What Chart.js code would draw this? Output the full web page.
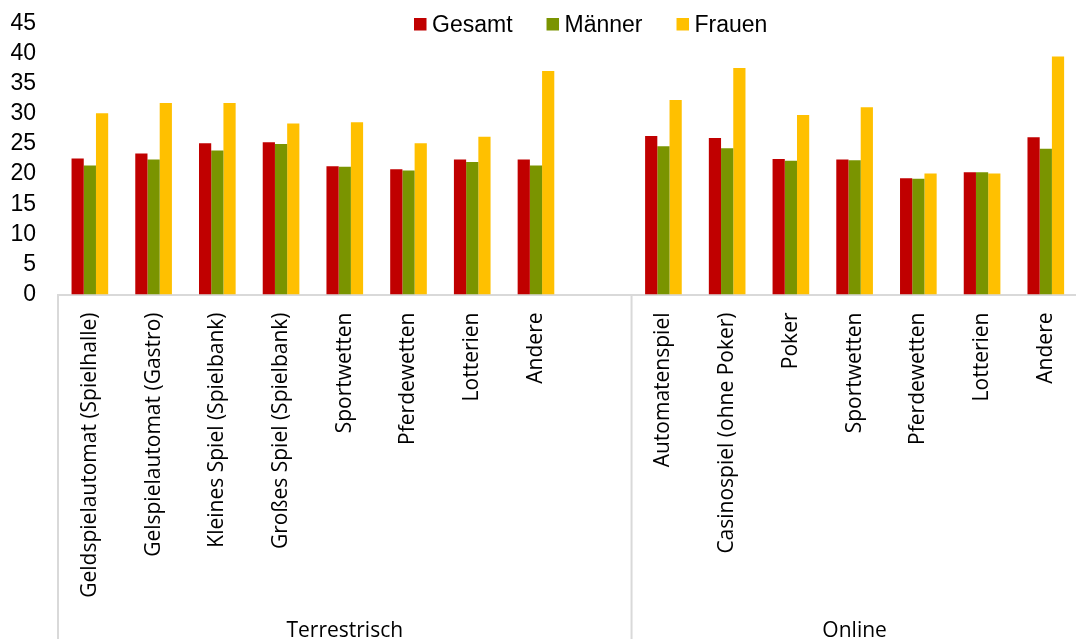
<!DOCTYPE html>
<html>
<head>
<meta charset="utf-8">
<script src="https://cdn.jsdelivr.net/npm/chart.js@4"></script>
<style>
  html, body { margin: 0; padding: 0; background: #fff; overflow: hidden; }
  #wrap { width: 1089px; height: 639px; }
</style>
</head>
<body>
<div id="wrap"><canvas id="gamblingChart" width="1089" height="639"></canvas></div>
<script>
// Categories: 8 terrestrial, one empty spacer slot, 7 online
const categories = [
    'Geldspielautomat (Spielhalle)', 'Gelspielautomat (Gastro)', 'Kleines Spiel (Spielbank)',
    'Großes Spiel (Spielbank)', 'Sportwetten', 'Pferdewetten', 'Lotterien', 'Andere',
    '',
    'Automatenspiel', 'Casinospiel (ohne Poker)', 'Poker', 'Sportwetten',
    'Pferdewetten', 'Lotterien', 'Andere'
];
const groups = ['Terrestrisch', 'Online'];
const seriesNames = ['Gesamt', 'Männer', 'Frauen'];

const gesamt = [22.6, 23.4, 25.1, 25.3, 21.3, 20.8, 22.4, 22.4, null, 26.3, 26.0, 22.5, 22.4, 19.3, 20.3, 26.1];
const maenner = [21.4, 22.4, 23.9, 25.0, 21.2, 20.6, 22.0, 21.4, null, 24.6, 24.3, 22.2, 22.3, 19.2, 20.3, 24.2];
const frauen = [30.1, 31.8, 31.8, 28.4, 28.6, 25.1, 26.2, 37.1, null, 32.3, 37.6, 29.8, 31.1, 20.1, 20.1, 39.5];

const yTicks = [0, 5, 10, 15, 20, 25, 30, 35, 40, 45];

const colors = ['#c00000', '#7a9400', '#ffc000'];

// Custom legend, category group labels and separators
const decorPlugin = {
    id: 'decor',
    afterDraw(chart) {
        const ctx = chart.ctx;
        const area = chart.chartArea;
        const x = chart.scales.x;
        const bottom = chart.height;

        // separator lines below the category axis
        const divider = (x.getPixelForValue(8) + x.getPixelForValue(9)) / 2;
        ctx.save();
        ctx.strokeStyle = '#d9d9d9';
        ctx.lineWidth = 2;
        [area.left, divider].forEach(px => {
            ctx.beginPath();
            ctx.moveTo(px, area.bottom);
            ctx.lineTo(px, bottom);
            ctx.stroke();
        });

        // group labels
        ctx.fillStyle = '#000';
        ctx.font = '21px "Open Sans"';
        ctx.textAlign = 'center';
        ctx.textBaseline = 'alphabetic';
        ctx.fillText(groups[0], (area.left + divider) / 2, 637);
        ctx.fillText(groups[1], (divider + area.right) / 2, 637);

        // legend
        ctx.font = '23px "Liberation Sans", Arial, sans-serif';
        ctx.textAlign = 'left';
        ctx.textBaseline = 'middle';
        let lx = 414;
        const ly = 24.5;
        chart.data.datasets.forEach(ds => {
            ctx.fillStyle = ds.backgroundColor;
            ctx.fillRect(lx, ly - 6.5, 12.5, 12.5);
            lx += 18;
            ctx.fillStyle = '#000';
            ctx.fillText(ds.label, lx, ly + 1);
            lx += ctx.measureText(ds.label).width + 34;
        });
        ctx.restore();
    }
};

new Chart(document.getElementById('gamblingChart'), {
    type: 'bar',
    data: {
        labels: categories,
        datasets: [
            { label: seriesNames[0], data: gesamt, backgroundColor: colors[0] },
            { label: seriesNames[1], data: maenner, backgroundColor: colors[1] },
            { label: seriesNames[2], data: frauen, backgroundColor: colors[2] }
        ]
    },
    options: {
        responsive: false,
        animation: false,
        layout: { padding: { top: 23.5, left: 0, right: 0, bottom: 0 } },
        datasets: {
            bar: { barPercentage: 1, categoryPercentage: 0.575, borderWidth: 0 }
        },
        plugins: {
            legend: { display: false },
            tooltip: { enabled: false }
        },
        scales: {
            x: {
                grid: { display: false, drawTicks: false },
                border: { display: true, color: '#d9d9d9', width: 2 },
                ticks: {
                    autoSkip: false,
                    minRotation: 90,
                    maxRotation: 90,
                    padding: 18,
                    color: '#000',
                    font: { family: '"Open Sans"', size: 21 }
                },
                afterFit(scale) { scale.height = 344.5; }
            },
            y: {
                min: 0,
                max: 45,
                grid: { display: false, drawTicks: false },
                border: { display: false },
                afterBuildTicks(scale) { scale.ticks = yTicks.map(v => ({ value: v })); },
                ticks: {
                    autoSkip: false,
                    padding: 22,
                    color: '#000',
                    font: { family: '"Liberation Sans", Arial, sans-serif', size: 23 }
                },
                afterFit(scale) {
                    scale.width = 58;
                    // tick padding would otherwise push the plot top down
                    scale.paddingTop = 0;
                    scale.paddingBottom = 0;
                }
            }
        }
    },
    plugins: [decorPlugin]
});
</script>
</body>
</html>
